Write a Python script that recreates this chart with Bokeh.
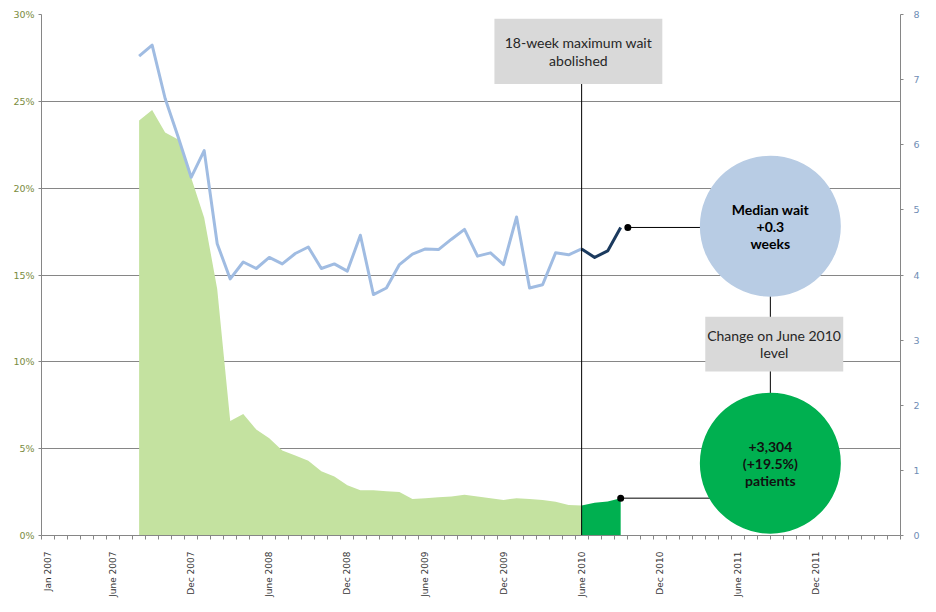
import math
from bokeh.plotting import figure
from bokeh.models import Range1d, LinearAxis, FixedTicker, PrintfTickFormatter
from bokeh.core.properties import value
from bokeh.embed import file_html
from bokeh.resources import INLINE

# ---------------- data ----------------
MONTH_NAMES = ["Jan", "Feb", "Mar", "Apr", "May", "June",
               "July", "Aug", "Sep", "Oct", "Nov", "Dec"]
MONTHS = [f"{m} {y}" for y in range(2007, 2013) for m in MONTH_NAMES][:66]

TICK_LABELS = ["Jan 2007", "June 2007", "Dec 2007", "June 2008", "Dec 2008",
               "June 2009", "Dec 2009", "June 2010", "Dec 2010", "June 2011",
               "Dec 2011"]

SERIES_START = "Aug 2007"
CHANGE_MONTH = "June 2010"

# share of patients waiting (left axis, %)
PCT_WAITING = [23.9, 24.5, 23.2, 22.8, 20.6, 18.3, 14.2, 6.6, 7.0, 6.1,
               5.6, 4.9, 4.6, 4.3, 3.7, 3.4, 2.9, 2.6, 2.6, 2.55,
               2.5, 2.1, 2.15, 2.2, 2.25, 2.35, 2.25, 2.15, 2.05, 2.15,
               2.1, 2.05, 1.95, 1.75, 1.73, 1.88, 1.96, 2.15]

# median wait in weeks (right axis)
MEDIAN_WAIT = [7.36, 7.53, 6.71, 6.12, 5.50, 5.91, 4.48, 3.94, 4.20, 4.10,
               4.27, 4.17, 4.33, 4.43, 4.10, 4.17, 4.06, 4.61, 3.70, 3.80,
               4.16, 4.32, 4.40, 4.39, 4.55, 4.70, 4.29, 4.34, 4.16, 4.89,
               3.80, 3.85, 4.34, 4.31, 4.40, 4.27, 4.37, 4.73]

NOTE_TOP = "18-week maximum wait\nabolished"
NOTE_MID = "Change on June 2010\nlevel"
NOTE_WAIT = "Median wait\n+0.3\nweeks"
NOTE_PAT = "+3,304\n(+19.5%)\npatients"

# ---------------- styles ----------------
LIGHT_GREEN = "#C4E2A0"
DARK_GREEN = "#00B050"
LIGHT_BLUE = "#A0BCE2"
DARK_BLUE = "#1B3A5E"
CIRCLE_BLUE = "#B8CCE4"
BOX_GREY = "#D9D9D9"
GRID = "#868686"

start = MONTHS.index(SERIES_START)
xs = [start + k for k in range(len(PCT_WAITING))]
cidx = MONTHS.index(CHANGE_MONTH) - start

p = figure(width=936, height=612, x_range=Range1d(-0.5, len(MONTHS) - 0.5),
           y_range=Range1d(0, 30), output_backend="svg", toolbar_location=None,
           min_border_left=41, min_border_right=36, min_border_top=14,
           min_border_bottom=77, outline_line_color=None,
           background_fill_color="white", border_fill_color="white")
p.extra_y_ranges = {"wait": Range1d(0, 8)}

# bottom axis
xa = p.xaxis[0]
tick_idx = [MONTHS.index(t) for t in TICK_LABELS]
xa.ticker = FixedTicker(ticks=tick_idx,
                        minor_ticks=[i - 0.5 for i in range(len(MONTHS) + 1)])
xa.major_label_overrides = {i: t for i, t in zip(tick_idx, TICK_LABELS)}
xa.major_label_orientation = math.pi / 2
xa.major_tick_out = 0
xa.major_tick_in = 0
xa.minor_tick_out = 4
xa.minor_tick_in = 0
xa.minor_tick_line_color = GRID
xa.axis_line_color = GRID
xa.major_label_standoff = 12
xa.major_label_text_font = "DejaVu Sans"
xa.major_label_text_font_size = "9px"
xa.major_label_text_color = "#333333"

# left axis
ya = p.yaxis[0]
ya.ticker = FixedTicker(ticks=[0, 5, 10, 15, 20, 25, 30])
ya.formatter = PrintfTickFormatter(format="%d%%")
ya.major_tick_out = 3
ya.major_tick_in = 0
ya.minor_tick_out = 0
ya.minor_tick_in = 0
ya.axis_line_color = GRID
ya.major_tick_line_color = GRID
ya.major_label_standoff = 4
ya.major_label_text_font = "DejaVu Sans"
ya.major_label_text_font_size = "9.5px"
ya.major_label_text_color = "#7A8C3E"

# right axis
ra = LinearAxis(y_range_name="wait", ticker=FixedTicker(ticks=list(range(9))))
ra.major_tick_out = 3
ra.major_tick_in = 0
ra.minor_tick_out = 0
ra.minor_tick_in = 0
ra.axis_line_color = GRID
ra.major_tick_line_color = GRID
ra.major_label_standoff = 10
ra.major_label_text_font = "DejaVu Sans"
ra.major_label_text_font_size = "9.5px"
ra.major_label_text_color = "#6F8DB5"
p.add_layout(ra, "right")

p.xgrid.visible = False
p.ygrid.ticker = FixedTicker(ticks=[0, 5, 10, 15, 20, 25, 30])
p.ygrid.grid_line_color = GRID
p.ygrid.grid_line_width = 1

# areas
p.varea(x=xs[:cidx + 1], y1=[0] * (cidx + 1), y2=PCT_WAITING[:cidx + 1],
        fill_color=LIGHT_GREEN)
p.varea(x=xs[cidx:], y1=[0] * (len(xs) - cidx), y2=PCT_WAITING[cidx:],
        fill_color=DARK_GREEN)

# lines
p.line(xs[:cidx + 1], MEDIAN_WAIT[:cidx + 1], y_range_name="wait",
       line_color=LIGHT_BLUE, line_width=3, line_join="round")
p.line(xs[cidx:], MEDIAN_WAIT[cidx:], y_range_name="wait",
       line_color=DARK_BLUE, line_width=3, line_join="round")

# annotation geometry (data coordinates)
BOX1 = dict(left=34.3, right=47.2, top=29.76, bottom=26.0)
BOX2 = dict(left=50.5, right=61.1, top=12.6, bottom=9.45)
CIRCLE_X = 55.5
BLUE_CY = 4.75     # weeks
GREEN_CY = 1.11    # weeks
CIRCLE_SIZE = 141
last_x = xs[-1]
dot_x = last_x + 0.55

# vertical line at change month
chg_x = MONTHS.index(CHANGE_MONTH)
p.segment(x0=[chg_x], y0=[0], x1=[chg_x], y1=[BOX1["bottom"]],
          line_color="black", line_width=1)

# connectors
p.segment(x0=[dot_x], y0=[MEDIAN_WAIT[-1]], x1=[CIRCLE_X], y1=[MEDIAN_WAIT[-1]],
          y_range_name="wait", line_color="black", line_width=1)
p.segment(x0=[last_x], y0=[PCT_WAITING[-1]], x1=[CIRCLE_X], y1=[PCT_WAITING[-1]],
          line_color="black", line_width=1)
p.segment(x0=[CIRCLE_X], y0=[BLUE_CY], x1=[CIRCLE_X], y1=[GREEN_CY],
          y_range_name="wait", line_color="black", line_width=1)

# circles
p.scatter(x=[CIRCLE_X], y=[BLUE_CY], y_range_name="wait", marker="circle",
          size=CIRCLE_SIZE, fill_color=CIRCLE_BLUE, line_color=None)
p.scatter(x=[CIRCLE_X], y=[GREEN_CY], y_range_name="wait", marker="circle",
          size=CIRCLE_SIZE, fill_color=DARK_GREEN, line_color=None)

# dots
p.scatter(x=[dot_x], y=[MEDIAN_WAIT[-1]], y_range_name="wait", marker="circle",
          size=7, fill_color="black", line_color=None)
p.scatter(x=[last_x], y=[PCT_WAITING[-1]], marker="circle",
          size=7, fill_color="black", line_color=None)

# grey boxes
p.quad(left=[BOX1["left"]], right=[BOX1["right"]], top=[BOX1["top"]],
       bottom=[BOX1["bottom"]], fill_color=BOX_GREY, line_color=None)
p.quad(left=[BOX2["left"]], right=[BOX2["right"]], top=[BOX2["top"]],
       bottom=[BOX2["bottom"]], fill_color=BOX_GREY, line_color=None)

# texts
p.text(x=[(BOX1["left"] + BOX1["right"]) / 2], y=[(BOX1["top"] + BOX1["bottom"]) / 2],
       text=[NOTE_TOP], text_align="center", text_baseline="middle",
       text_font=value("Lato"), text_font_size="14px", text_color="#262626",
       text_line_height=1.05)
p.text(x=[(BOX2["left"] + BOX2["right"]) / 2], y=[(BOX2["top"] + BOX2["bottom"]) / 2],
       text=[NOTE_MID], text_align="center", text_baseline="middle",
       text_font=value("Lato"), text_font_size="14px", text_color="#262626",
       text_line_height=1.05)
p.text(x=[CIRCLE_X], y=[BLUE_CY], y_range_name="wait", text=[NOTE_WAIT],
       text_align="center", text_baseline="middle", text_font=value("Lato"),
       text_font_size="14px", text_font_style="bold", text_color="#000000",
       text_line_height=1.0)
p.text(x=[CIRCLE_X], y=[GREEN_CY], y_range_name="wait", text=[NOTE_PAT],
       text_align="center", text_baseline="middle", text_font=value("Lato"),
       text_font_size="14px", text_font_style="bold", text_color="#111111",
       text_line_height=1.0)

open("out.html", "w").write(file_html(p, INLINE))
